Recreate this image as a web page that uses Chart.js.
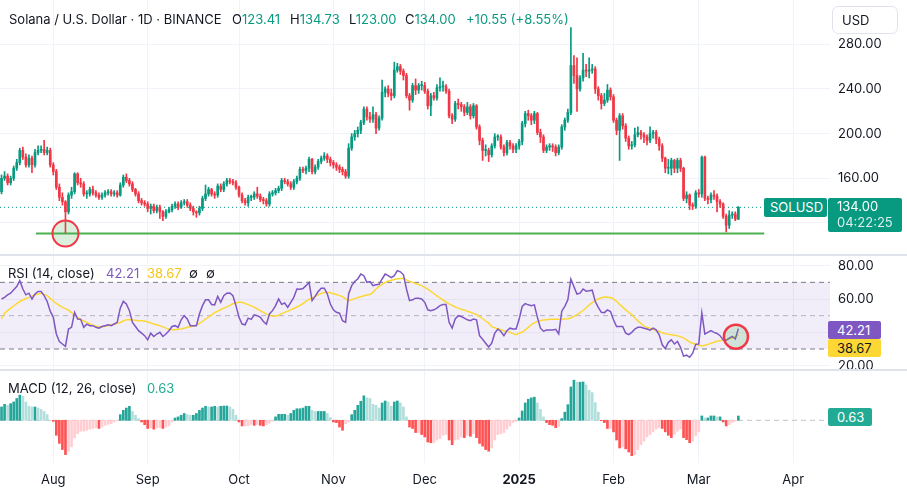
<!DOCTYPE html>
<html>
<head>
<meta charset="utf-8">
<title>SOLUSD 1D</title>
<script src="https://cdn.jsdelivr.net/npm/chart.js@4.4.1/dist/chart.umd.min.js"></script>
<style>
  body { margin: 0; background: #fff; font-family: Inter, sans-serif; color: #131722; }
  #wrap { position: relative; width: 907px; height: 494px; overflow: hidden; }
  canvas { position: absolute; left: 0; }
  .sep { position: absolute; left: 0; width: 907px; height: 2px; background: #e0e3eb; }
  .t { position: absolute; white-space: nowrap; line-height: 16px; }
  .box { position: absolute; color: #fff; font-size: 13px; line-height: 17px; border-radius: 2px; padding-left: 10px; box-sizing: border-box; white-space: nowrap; }
  .g { color: #089981; }
  .hd { font-size: 13px; top: 11px; }
</style>
</head>
<body>
<div id="wrap">
  <canvas id="price" width="907" height="254" style="top:0"></canvas>
  <canvas id="rsi" width="907" height="114" style="top:256px"></canvas>
  <canvas id="macd" width="907" height="123" style="top:371px"></canvas>

  <div class="sep" style="top:254px"></div>
  <div class="sep" style="top:369px"></div>

  <div class="t hd" style="left:9px">Solana / U.S. Dollar · 1D · BINANCE</div>
  <div class="t hd" style="left:232px">O<span class="g">123.41</span></div>
  <div class="t hd" style="left:290px">H<span class="g">134.73</span></div>
  <div class="t hd" style="left:349px">L<span class="g">123.00</span></div>
  <div class="t hd" style="left:405px">C<span class="g">134.00</span></div>
  <div class="t hd g" style="left:466px">+10.55 (+8.55%)</div>

  <div class="t" style="left:832px;top:6px;width:66px;height:28px;border:1px solid #e0e3eb;border-radius:6px;box-sizing:border-box;padding:5px 0 0 9px;font-size:13px">USD</div>

  <div class="box" style="left:764px;top:198px;width:63px;height:19px;background:#089981;padding-left:6px;line-height:19px">SOLUSD</div>
  <div class="box" style="left:828px;top:198px;width:74px;height:34px;background:#089981;padding-left:9px;padding-top:1px;line-height:15.5px">134.00<br><span style="opacity:.85">04:22:25</span></div>

  <div class="t" style="left:8px;top:265px;font-size:13px">RSI (14, close)</div>
  <div class="t" style="left:106px;top:265px;font-size:13px;color:#7e57c2">42.21</div>
  <div class="t" style="left:147px;top:265px;font-size:13px;color:#f5c518">38.67</div>
  <div class="t" style="left:189px;top:265px;font-size:13px">∅</div>
  <div class="t" style="left:206px;top:265px;font-size:13px">∅</div>
  <div class="box" style="left:828px;top:321px;width:53px;height:18px;background:#7e57c2;padding-left:9px;line-height:18px">42.21</div>
  <div class="box" style="left:828px;top:339px;width:53px;height:18px;background:#fdd835;color:#131722;padding-left:9px;line-height:18px">38.67</div>

  <div class="t" style="left:8px;top:380px;font-size:13px">MACD (12, 26, close)</div>
  <div class="t" style="left:147px;top:380px;font-size:13px;color:#22ab94">0.63</div>
  <div class="box" style="left:828px;top:408px;width:44px;height:18px;background:#22ab94;padding-left:9px;line-height:18px">0.63</div>
</div>

<script>
// x = days counted from 2024-08-01, first candle is 2024-07-15
const FIRST_DAY = -17;
const monthTicks = [0, 31, 61, 92, 122, 153, 184, 212, 243];
const monthLabels = ['Aug', 'Sep', 'Oct', 'Nov', 'Dec', '2025', 'Feb', 'Mar', 'Apr'];
const priceTicks = [120, 160, 200, 240, 280];
const rsiTicks = [20, 40, 60, 80];

const opens = [
  148,160,162,156,160,169,174,185,179,172,
  178,172,183,185,186,183,185,172,166,152,
  143,139,130,145,148,164,156,155,146,146,
  150,147,145,143,145,147,148,146,147,145,
  154,161,158,155,150,146,140,138,137,133,
  135,131,134,130,126,130,132,135,137,134,
  138,139,136,133,130,129,133,142,146,150,
  146,145,153,150,155,158,157,156,152,145,
  140,138,143,143,146,144,141,140,137,146,
  147,149,151,158,157,155,152,157,160,168,
  167,169,177,166,170,175,178,180,177,174,
  172,170,168,166,162,187,197,200,203,210,
  222,215,213,217,205,214,237,240,236,234,
  257,260,256,252,234,230,243,239,243,243,
  238,225,234,232,241,242,242,238,216,213,
  227,226,224,219,224,216,225,206,194,185,
  185,181,189,197,197,188,183,192,189,186,
  189,193,209,218,216,212,218,201,197,185,
  188,189,188,183,188,206,212,219,261,252,
  240,250,257,256,257,258,240,234,227,230,
  239,233,212,203,216,207,196,189,190,199,
  201,199,197,194,200,201,195,189,178,169,
  169,176,169,176,169,142,145,136,135,147,
  146,179,142,141,145,144,139,137,126,118,
  127,128,123.41
];
const highs = [
  163,166,164,162,171,177,187,188,182,181,
  180,186,189,189,194,188,187,174,168,155,
  147,140,147,152,165,165,160,157,149,152,
  153,149,147,147,149,150,150,149,149,156,
  163,164,160,157,151,148,142,140,139,137,
  137,136,136,131,132,134,137,139,139,140,
  141,141,138,135,131,135,144,154,152,151,
  148,155,155,157,160,160,159,158,153,147,
  142,145,145,148,152,146,143,142,148,149,
  151,153,160,160,159,157,159,162,170,170,
  171,179,178,172,177,180,183,182,179,176,
  174,172,170,168,191,200,203,206,212,224,
  224,219,224,219,216,248,242,243,240,264,
  263,262,258,254,236,245,249,245,247,246,
  240,236,237,244,250,247,244,240,218,229,
  231,228,226,228,226,227,226,208,196,190,
  187,191,200,199,199,190,194,194,191,191,
  195,211,220,221,218,220,219,204,199,190,
  191,191,190,190,208,214,222,295,270,268,
  252,272,262,268,262,260,242,236,236,244,
  241,235,214,218,218,209,198,193,205,206,
  203,201,199,206,203,203,197,191,179,177,
  178,177,178,178,170,148,146,138,149,150,
  180,180,144,147,149,146,141,138,128,131,
  130,130,134.73
];
const lows = [
  146,158,154,154,158,167,172,177,170,170,
  165,170,181,183,181,181,170,163,150,140,
  136,111,128,142,146,154,152,144,142,144,
  145,143,141,141,143,145,144,144,143,144,
  152,156,153,148,144,138,136,135,130,128,
  129,129,124,122,124,129,130,133,132,133,
  136,134,131,127,125,127,131,140,144,144,
  142,143,148,148,153,155,154,150,143,138,
  136,135,140,141,142,139,137,135,135,144,
  145,147,149,155,153,150,150,155,158,165,
  164,166,164,164,168,173,176,174,171,169,
  167,165,163,160,160,185,194,197,200,208,
  212,210,210,200,203,212,233,233,230,232,
  255,253,248,232,221,228,235,236,239,236,
  222,216,230,230,238,238,236,214,209,211,
  222,220,216,217,213,214,204,190,176,180,
  175,179,187,194,186,180,181,186,183,183,
  186,190,206,212,208,209,199,192,183,183,
  185,184,180,181,186,203,210,217,245,220,
  238,247,251,250,254,236,230,222,225,228,
  230,210,199,176,204,193,186,186,188,197,
  195,192,190,192,196,191,185,175,165,164,
  163,165,165,166,140,138,132,132,133,143,
  143,140,137,138,141,130,134,124,112,115,
  124,122,123
];
const closes = [
  160,162,156,160,169,174,185,179,172,178,
  172,183,185,186,183,185,172,166,152,143,
  139,130,145,148,164,156,155,146,146,150,
  147,145,143,145,147,148,146,147,145,154,
  161,158,155,150,146,140,138,137,133,135,
  131,134,130,126,130,132,135,137,134,138,
  139,136,133,130,129,133,142,146,150,146,
  145,153,150,155,158,157,156,152,145,140,
  138,143,143,146,144,141,140,137,146,147,
  149,151,158,157,155,152,157,160,168,167,
  169,177,166,170,175,178,180,177,174,172,
  170,168,166,162,187,197,200,203,210,222,
  215,213,217,205,214,237,240,236,234,257,
  260,256,252,234,230,243,239,243,243,238,
  225,234,232,241,242,242,238,216,213,227,
  226,224,219,224,216,225,206,194,185,185,
  181,189,197,197,188,183,192,189,186,189,
  193,209,218,216,212,218,201,197,185,188,
  189,188,183,188,206,212,219,261,252,240,
  250,257,256,257,258,240,234,227,230,239,
  233,212,203,216,207,196,189,190,199,201,
  199,197,194,200,201,195,189,178,169,169,
  176,169,176,169,142,145,136,135,147,146,
  179,142,141,145,144,139,137,126,118,127,
  128,123.41,134
];

const rsiValues = [
  60,61,62.5,63.5,65.5,67.5,71,66,62.5,63.5,
  60,63,64.5,64.5,62,58.5,52.7,49,39,34.5,
  33,31.6,42,43,52,48,47.8,43,44.9,44,
  44,43,42.5,43.5,44,44.5,44,45,46,54.5,
  58.6,57,53,46,43.5,41,39.5,38,35.5,39.5,
  37.5,39,40,37.5,39,41,43.5,44,43,47.5,
  50,48,44,43.9,44,51,56,59.5,59.5,56.7,
  56.5,61.6,58,62,63.5,63.6,62,56,49,45,
  44.5,48.5,47.8,50.5,50,49,46.5,44.9,51,53,
  56,60,56.8,57.6,55,58,61,66,65.8,66.3,
  68,70,59,61.6,64.5,66.5,66.5,63,57,53.5,
  52,51.5,47,46,63,68,70.5,72,75,74,
  70,70.5,68,68.5,68.8,72,75,74,72.8,74,
  77,76.3,74.5,66,59,59.5,60.5,60.5,60,58,
  53.5,53,53.5,54.5,56,56.7,56.7,46,42.5,48,
  50,49.5,48.5,47.5,47,48,47.5,38,35.8,33.5,
  31.2,33.5,39.5,42,40.5,38,41,42.5,42,42,
  47.8,55.5,57.2,56.5,56,56.5,49,42.5,40.7,41.4,
  41.4,41.4,41.8,39,52.7,55.5,59.6,72,67.4,63,
  63.5,66,64.7,64.9,65.3,58.5,55,52,51.8,53.5,
  52.5,47.5,43.5,43.5,43.5,39.5,38.6,40,42,43,
  43,42.5,42,41.3,42.5,41.5,38.5,32.5,30.2,34,
  35.5,33,34.5,31,25.7,26.3,25,27.5,32.8,33,
  51.7,39,40,41,40,39.3,38,35.5,35.2,36.5,
  37.5,36,42.21
];
const rsiMa = [
  48,51.5,53,54.5,55.8,57.2,58.5,59.4,60.3,61,
  61.8,62.4,63,63.4,62.8,62,60.4,58.8,57.4,56.2,
  55,54.2,53.3,51.8,50.4,49,47.7,46.8,46,45,
  44.2,43.7,43.4,43.3,43.6,43.9,44.5,44.9,45.4,45.9,
  46.8,47.6,47.7,47.4,47.2,47,46.9,46.6,46.3,45.6,
  45,44.5,44,43.3,42.5,41.9,41.5,41.5,41.8,42,
  42.5,43,43.4,43.8,44.5,45.4,46.5,48,49.2,50.5,
  51.8,52.7,53.7,54.5,55.3,56.2,57.2,57.7,58.1,58,
  57.3,56.6,55.9,55.1,54,53,52,50.9,50.3,49.8,
  49.6,50.2,51.2,52,52.7,53.5,54.3,55.2,56.2,57.3,
  58.6,59.8,60.7,61.6,62.5,63.4,63.9,64.1,63.7,63.1,
  62.7,62,61.4,60.1,59,59.6,60.2,60.9,61.4,61.9,
  62.4,62.7,64,66,67.6,68.8,70,70.8,71.3,71.7,
  72.1,72.3,72.3,71.5,70.6,70,69.3,68.7,68,67,
  65.9,64.6,63.3,61.9,60.6,59.4,58.2,57.1,56.2,55.2,
  54.5,53.9,53.3,52.6,52,51.4,50.7,49.6,48.3,46.8,
  45.5,43.4,42.8,42.1,41.5,40.9,40.4,40,39.2,38.6,
  39.5,40,41.5,43,44.6,45.7,46.6,47.1,47.4,47.6,
  47.8,47.8,47.8,47.8,47.8,48,48.1,48.6,49.6,50.6,
  51.8,53.1,54.7,56.4,57.8,59.2,60,60.8,61.2,61.1,
  60.9,60,58.6,56.8,55.1,53.5,52,50.6,48.8,46.9,
  45.4,43.7,43,42.5,41.8,41,40.6,39.7,39.2,38.8,
  38.5,38.3,38,37.3,36.7,35.5,34.2,33.4,32.9,32.3,
  31.8,32.2,32.7,33.5,34.1,34.6,35,35.4,35.6,36,
  36.7,37.2,38.67
];
const macdHist = [
  1.96,2.35,2.2,2.45,2.7,3.2,3.7,3.5,2.7,2.06,
  1.96,1.96,1.8,1.6,1.3,0.83,0,-0.15,-2.2,-3.4,
  -4.3,-5.05,-4.55,-3.9,-2.6,-1.96,-1.6,-1.6,-1.47,-1.3,
  -1.2,-1.1,-1.2,-1,-0.74,-0.6,-0.5,-0.25,-0.05,0.83,
  1.47,1.8,2.06,1.3,0.74,0.25,-0.25,-0.64,-1.2,-1.1,
  -1.3,-1.1,-1.1,-1.2,-1,-0.83,-0.25,0.34,0.5,0.74,
  1,0.83,0.74,0.74,1,1.47,1.8,2.06,1.96,1.96,
  2.06,1.96,2.06,2.1,2.1,1.96,1.6,0.74,-0.25,-0.83,
  -0.83,-0.83,-0.6,-0.74,-0.64,-0.74,-0.83,-0.64,-0.4,-0.15,
  0.5,0.88,0.88,0.88,0.74,1,1.47,1.7,1.7,1.8,
  2.06,2.06,1.47,1.3,1.3,1.3,1.3,1,0.4,-0.25,
  -0.34,-1,-1.47,-0.5,-0.25,0.83,1.47,2.2,2.8,3.6,
  3.3,3.2,2.35,2.2,1.8,2.55,2.84,2.7,2.1,2.7,
  2.84,2.55,1.96,0.5,-1,-1.2,-1.8,-1.8,-2.1,-2.45,
  -3.2,-3.3,-3.3,-2.9,-2.7,-2.2,-2.1,-2.9,-3.6,-2.9,
  -2.8,-2.45,-2.55,-2.2,-2.35,-1.96,-2.55,-3.4,-3.8,-4.3,
  -4.55,-4.07,-2.9,-2.1,-1.96,-1.8,-1.3,-0.83,-0.34,-0.15,
  0.34,1.37,2.55,3.1,3.3,3.4,2.55,1.6,0.5,-0.34,
  -0.64,-0.74,-1.08,-0.88,0.25,1.2,2.3,4.9,5.9,5.6,
  5.6,5.64,5.2,4.4,4.07,2.6,1.2,-0.05,-0.34,-1.2,
  -1.2,-1.7,-2.9,-4.07,-3.9,-4.2,-4.66,-5.2,-5.05,-4.3,
  -3.6,-3.04,-2.45,-2.1,-1.7,-1.3,-1.1,-1.2,-1.7,-2.2,
  -2.55,-2.06,-1.6,-1.3,-2.55,-2.84,-3.3,-3.1,-2.3,-1.7,
  0.64,0.34,0.34,0.64,0.64,0.5,0.5,-0.25,-0.83,-0.64,
  -0.34,-0.15,0.63
];

// drawn levels and markers
const lastPrice = 134.00;
const supportLevel = 110.5;
const supportFrom = -5.7;
const lineEnd = 233.5;        // where the price/support lines stop at the SOLUSD tag
const lowDay = 4;             // Aug 5 wick, circled
const rsiMarkDay = 224.2;
const rsiMarkValue = 37.4;

const UP = '#089981';
const DOWN = '#f23645';
const GRID = '#f0f3fa';
const TEXT = '#131722';
const AXIS_W = 77;
const X_MIN = -17.5, X_MAX = 255.1;

const days = closes.map((_, i) => FIRST_DAY + i);
const candleColors = closes.map((c, i) => c >= opens[i] ? UP : DOWN);

function timeAxis(showLabels) {
  return {
    type: 'linear', min: X_MIN, max: X_MAX, offset: false,
    afterBuildTicks: s => { s.ticks = monthTicks.map(v => ({ value: v })); },
    afterFit: s => { s.height = showLabels ? 31 : 0; s.paddingLeft = 0; s.paddingRight = 0; },
    border: { display: false },
    grid: { color: GRID, drawTicks: false, offset: false },
    ticks: {
      display: showLabels, autoSkip: false, maxRotation: 0, padding: 9, color: TEXT,
      callback: v => monthLabels[monthTicks.indexOf(v)],
      font: ctx => ({ family: 'Inter', size: 13, weight: ctx.tick && ctx.tick.value === 153 ? 'bold' : 'normal' })
    }
  };
}

function rightAxis(min, max, ticks, showLabels, showGrid) {
  return {
    position: 'right', min: min, max: max,
    afterBuildTicks: s => { s.ticks = ticks.map(v => ({ value: v })); },
    afterFit: s => { s.width = AXIS_W; s.paddingTop = 0; s.paddingBottom = 0; },
    border: { display: false },
    grid: { display: showGrid, color: GRID, drawTicks: false },
    ticks: {
      display: showLabels, padding: 8, color: TEXT, autoSkip: false,
      font: { family: 'Inter', size: 13 },
      callback: v => v.toFixed(2)
    }
  };
}

function paneOptions(x, y) {
  return {
    responsive: false, animation: false, devicePixelRatio: 1, events: [],
    layout: { padding: 0, autoPadding: false },
    plugins: { legend: { display: false }, tooltip: { enabled: false } },
    scales: { x: x, y: y }
  };
}

// price pane
new Chart(document.getElementById('price'), {
  data: {
    datasets: [
      {
        type: 'line', order: 4, pointRadius: 0, borderWidth: 2, borderColor: '#4caf50',
        data: [{ x: supportFrom, y: supportLevel }, { x: lineEnd, y: supportLevel }]
      },
      {
        type: 'line', order: 4, pointRadius: 0, borderWidth: 1, borderColor: UP, borderDash: [1, 3],
        data: [{ x: X_MIN, y: lastPrice }, { x: lineEnd, y: lastPrice }]
      },
      {
        type: 'bar', order: 2, grouped: false, barThickness: 1, backgroundColor: candleColors,
        data: days.map((d, i) => ({ x: d, y: [lows[i], highs[i]] }))
      },
      {
        type: 'bar', order: 1, grouped: false, barThickness: 2, minBarLength: 1, backgroundColor: candleColors,
        data: days.map((d, i) => ({ x: d, y: [opens[i], closes[i]] }))
      },
      {
        type: 'line', order: 0, showLine: false, pointRadius: 13, pointBorderWidth: 2,
        pointBackgroundColor: 'rgba(76,175,80,0.2)', pointBorderColor: DOWN,
        data: [{ x: lowDay, y: supportLevel }]
      }
    ]
  },
  options: paneOptions(timeAxis(false), rightAxis(92.2, 319.7, priceTicks, true, true))
});

// RSI pane
const bandEdge = (v) => [{ x: X_MIN, y: v }, { x: X_MAX, y: v }];
new Chart(document.getElementById('rsi'), {
  data: {
    datasets: [
      { type: 'line', order: 5, pointRadius: 0, borderWidth: 1, borderColor: '#787b86', borderDash: [5, 4], data: bandEdge(70), fill: false },
      { type: 'line', order: 5, pointRadius: 0, borderWidth: 1, borderColor: '#787b86', borderDash: [5, 4], data: bandEdge(30), fill: '-1', backgroundColor: 'rgba(126,87,194,0.1)' },
      { type: 'line', order: 5, pointRadius: 0, borderWidth: 1, borderColor: 'rgba(120,123,134,0.5)', borderDash: [5, 4], data: bandEdge(50) },
      {
        type: 'line', order: 2, pointRadius: 0, borderWidth: 1.5, borderColor: '#fdd835',
        data: days.map((d, i) => ({ x: d, y: rsiMa[i] }))
      },
      {
        type: 'line', order: 1, pointRadius: 0, borderWidth: 1.5, borderColor: '#7e57c2',
        data: days.map((d, i) => ({ x: d, y: rsiValues[i] }))
      },
      {
        type: 'line', order: 0, showLine: false, pointRadius: 12, pointBorderWidth: 2.5,
        pointBackgroundColor: 'rgba(76,175,80,0.2)', pointBorderColor: DOWN,
        data: [{ x: rsiMarkDay, y: rsiMarkValue }]
      }
    ]
  },
  options: paneOptions(timeAxis(false), rightAxis(17.4, 85.8, rsiTicks, true, true))
});

// MACD pane with the time axis underneath
const macdColors = macdHist.map((v, i) => {
  const prev = i > 0 ? macdHist[i - 1] : v;
  if (v >= 0) return v >= prev ? '#26a69a' : '#b2dfdb';
  return v < prev ? '#ff5252' : '#ffcdd2';
});
new Chart(document.getElementById('macd'), {
  data: {
    datasets: [
      { type: 'line', order: 5, pointRadius: 0, borderWidth: 1, borderColor: 'rgba(120,123,134,0.45)', borderDash: [5, 4], data: bandEdge(0) },
      {
        type: 'bar', order: 1, grouped: false, barThickness: 2, backgroundColor: macdColors,
        data: days.map((d, i) => ({ x: d, y: macdHist[i] }))
      }
    ]
  },
  options: paneOptions(timeAxis(true), rightAxis(-6.28, 7.25, [0], false, false))
});
</script>
</body>
</html>
